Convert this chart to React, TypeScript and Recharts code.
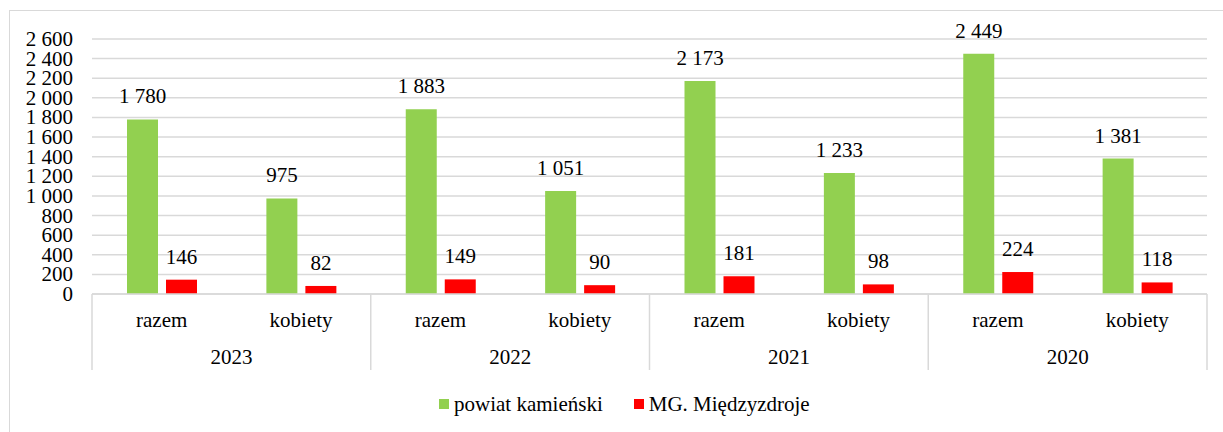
import React from 'react';
import { BarChart, Bar, XAxis, YAxis, CartesianGrid, Legend, LabelList } from 'recharts';

const categories = ['razem', 'kobiety', 'razem', 'kobiety', 'razem', 'kobiety', 'razem', 'kobiety'];
const years = ['2023', '2023', '2022', '2022', '2021', '2021', '2020', '2020'];
const powiatValues = [1780, 975, 1883, 1051, 2173, 1233, 2449, 1381];
const mgValues = [146, 82, 149, 90, 181, 98, 224, 118];
const yTicks = [0, 200, 400, 600, 800, 1000, 1200, 1400, 1600, 1800, 2000, 2200, 2400, 2600];

const seriesNames = { powiat: 'powiat kamieński', mg: 'MG. Międzyzdroje' };
const GREEN = '#92d050';
const RED = '#ff0000';
const GRID = '#d9d9d9';
const FONT = 'Liberation Serif, Times New Roman, serif';

const data = categories.map((c, i) => ({
  sub: c,
  year: years[i],
  powiat: powiatValues[i],
  mg: mgValues[i],
}));

const fmt = (v: number | string) => String(v).replace(/\B(?=(\d{3})+(?!\d))/g, ' ');

function CategoryTick(props: any) {
  const { x, y, payload, index } = props;
  const off = payload && typeof payload.offset === 'number' ? payload.offset : 69.7;
  const i = typeof index === 'number' ? index : payload.index;
  const els: any[] = [];
  els.push(
    <text key="s" x={x} y={y + 33} textAnchor="middle" fontSize={21} fontFamily={FONT} fill="#000">
      {payload.value}
    </text>
  );
  if (i % 2 === 0) {
    els.push(<line key="l" x1={x - off} x2={x - off} y1={y} y2={y + 76} stroke={GRID} strokeWidth={1.5} />);
    els.push(
      <text key="y" x={x + off} y={y + 70} textAnchor="middle" fontSize={21} fontFamily={FONT} fill="#000">
        {years[i]}
      </text>
    );
  }
  if (i === categories.length - 1) {
    els.push(<line key="r" x1={x + off} x2={x + off} y1={y} y2={y + 76} stroke={GRID} strokeWidth={1.5} />);
  }
  return <g>{els}</g>;
}

function ValueTick(props: any) {
  const { x, y, payload } = props;
  return (
    <text x={x} y={y + 7} textAnchor="end" fontSize={21} fontFamily={FONT} fill="#000">
      {fmt(payload.value)}
    </text>
  );
}

function BarLabel(props: any) {
  const { x, y, width, value } = props;
  return (
    <text x={x + width / 2} y={y - 16} textAnchor="middle" fontSize={21} fontFamily={FONT} fill="#000">
      {fmt(value)}
    </text>
  );
}

function LegendContent() {
  const items = [
    { name: seriesNames.powiat, color: GREEN },
    { name: seriesNames.mg, color: RED },
  ];
  return (
    <div style={{ height: 24, display: 'flex', justifyContent: 'flex-start', alignItems: 'center', paddingLeft: 439, fontFamily: FONT, fontSize: 21, color: '#000' }}>
      {items.map((it, k) => (
        <div key={k} style={{ display: 'flex', alignItems: 'center', marginLeft: k === 0 ? 0 : 31 }}>
          <span style={{ display: 'inline-block', width: 10, height: 10, background: it.color, marginRight: 5 }} />
          <span style={{ fontFamily: FONT }}>{it.name}</span>
        </div>
      ))}
    </div>
  );
}

export default function App() {
  return (
    <div style={{ position: 'absolute', left: 0, top: 0, width: 1223, height: 432, overflow: 'hidden', background: '#fff', fontFamily: FONT }}>
      <div style={{ position: 'absolute', left: 9, top: 10, width: 1300, height: 500, border: `1px solid ${GRID}`, boxSizing: 'border-box' }} />
      <div style={{ position: 'absolute', left: 0, top: 0, fontFamily: FONT }}>
        <BarChart
          width={1223}
          height={432}
          data={data}
          margin={{ top: 39, right: 16, left: 0, bottom: 38 }}
          barSize={31}
          barGap={8}
        >
          <CartesianGrid vertical={false} stroke={GRID} strokeWidth={1.5} />
          <XAxis
            dataKey="sub"
            height={76}
            interval={0}
            tickLine={false}
            tickSize={0}
            tickMargin={0}
            axisLine={{ stroke: GRID, strokeWidth: 1.5 }}
            tick={<CategoryTick />}
          />
          <YAxis
            width={92}
            domain={[0, 2600]}
            ticks={yTicks}
            interval={0}
            axisLine={false}
            tickLine={false}
            tickSize={0}
            tickMargin={19}
            tick={<ValueTick />}
          />
          <Legend
            verticalAlign="bottom"
            content={<LegendContent />}
            wrapperStyle={{ bottom: 16, left: 0, width: 1223 }}
          />
          <Bar dataKey="powiat" name={seriesNames.powiat} fill={GREEN} isAnimationActive={false}>
            <LabelList dataKey="powiat" content={<BarLabel />} />
          </Bar>
          <Bar dataKey="mg" name={seriesNames.mg} fill={RED} isAnimationActive={false}>
            <LabelList dataKey="mg" content={<BarLabel />} />
          </Bar>
        </BarChart>
      </div>
    </div>
  );
}
